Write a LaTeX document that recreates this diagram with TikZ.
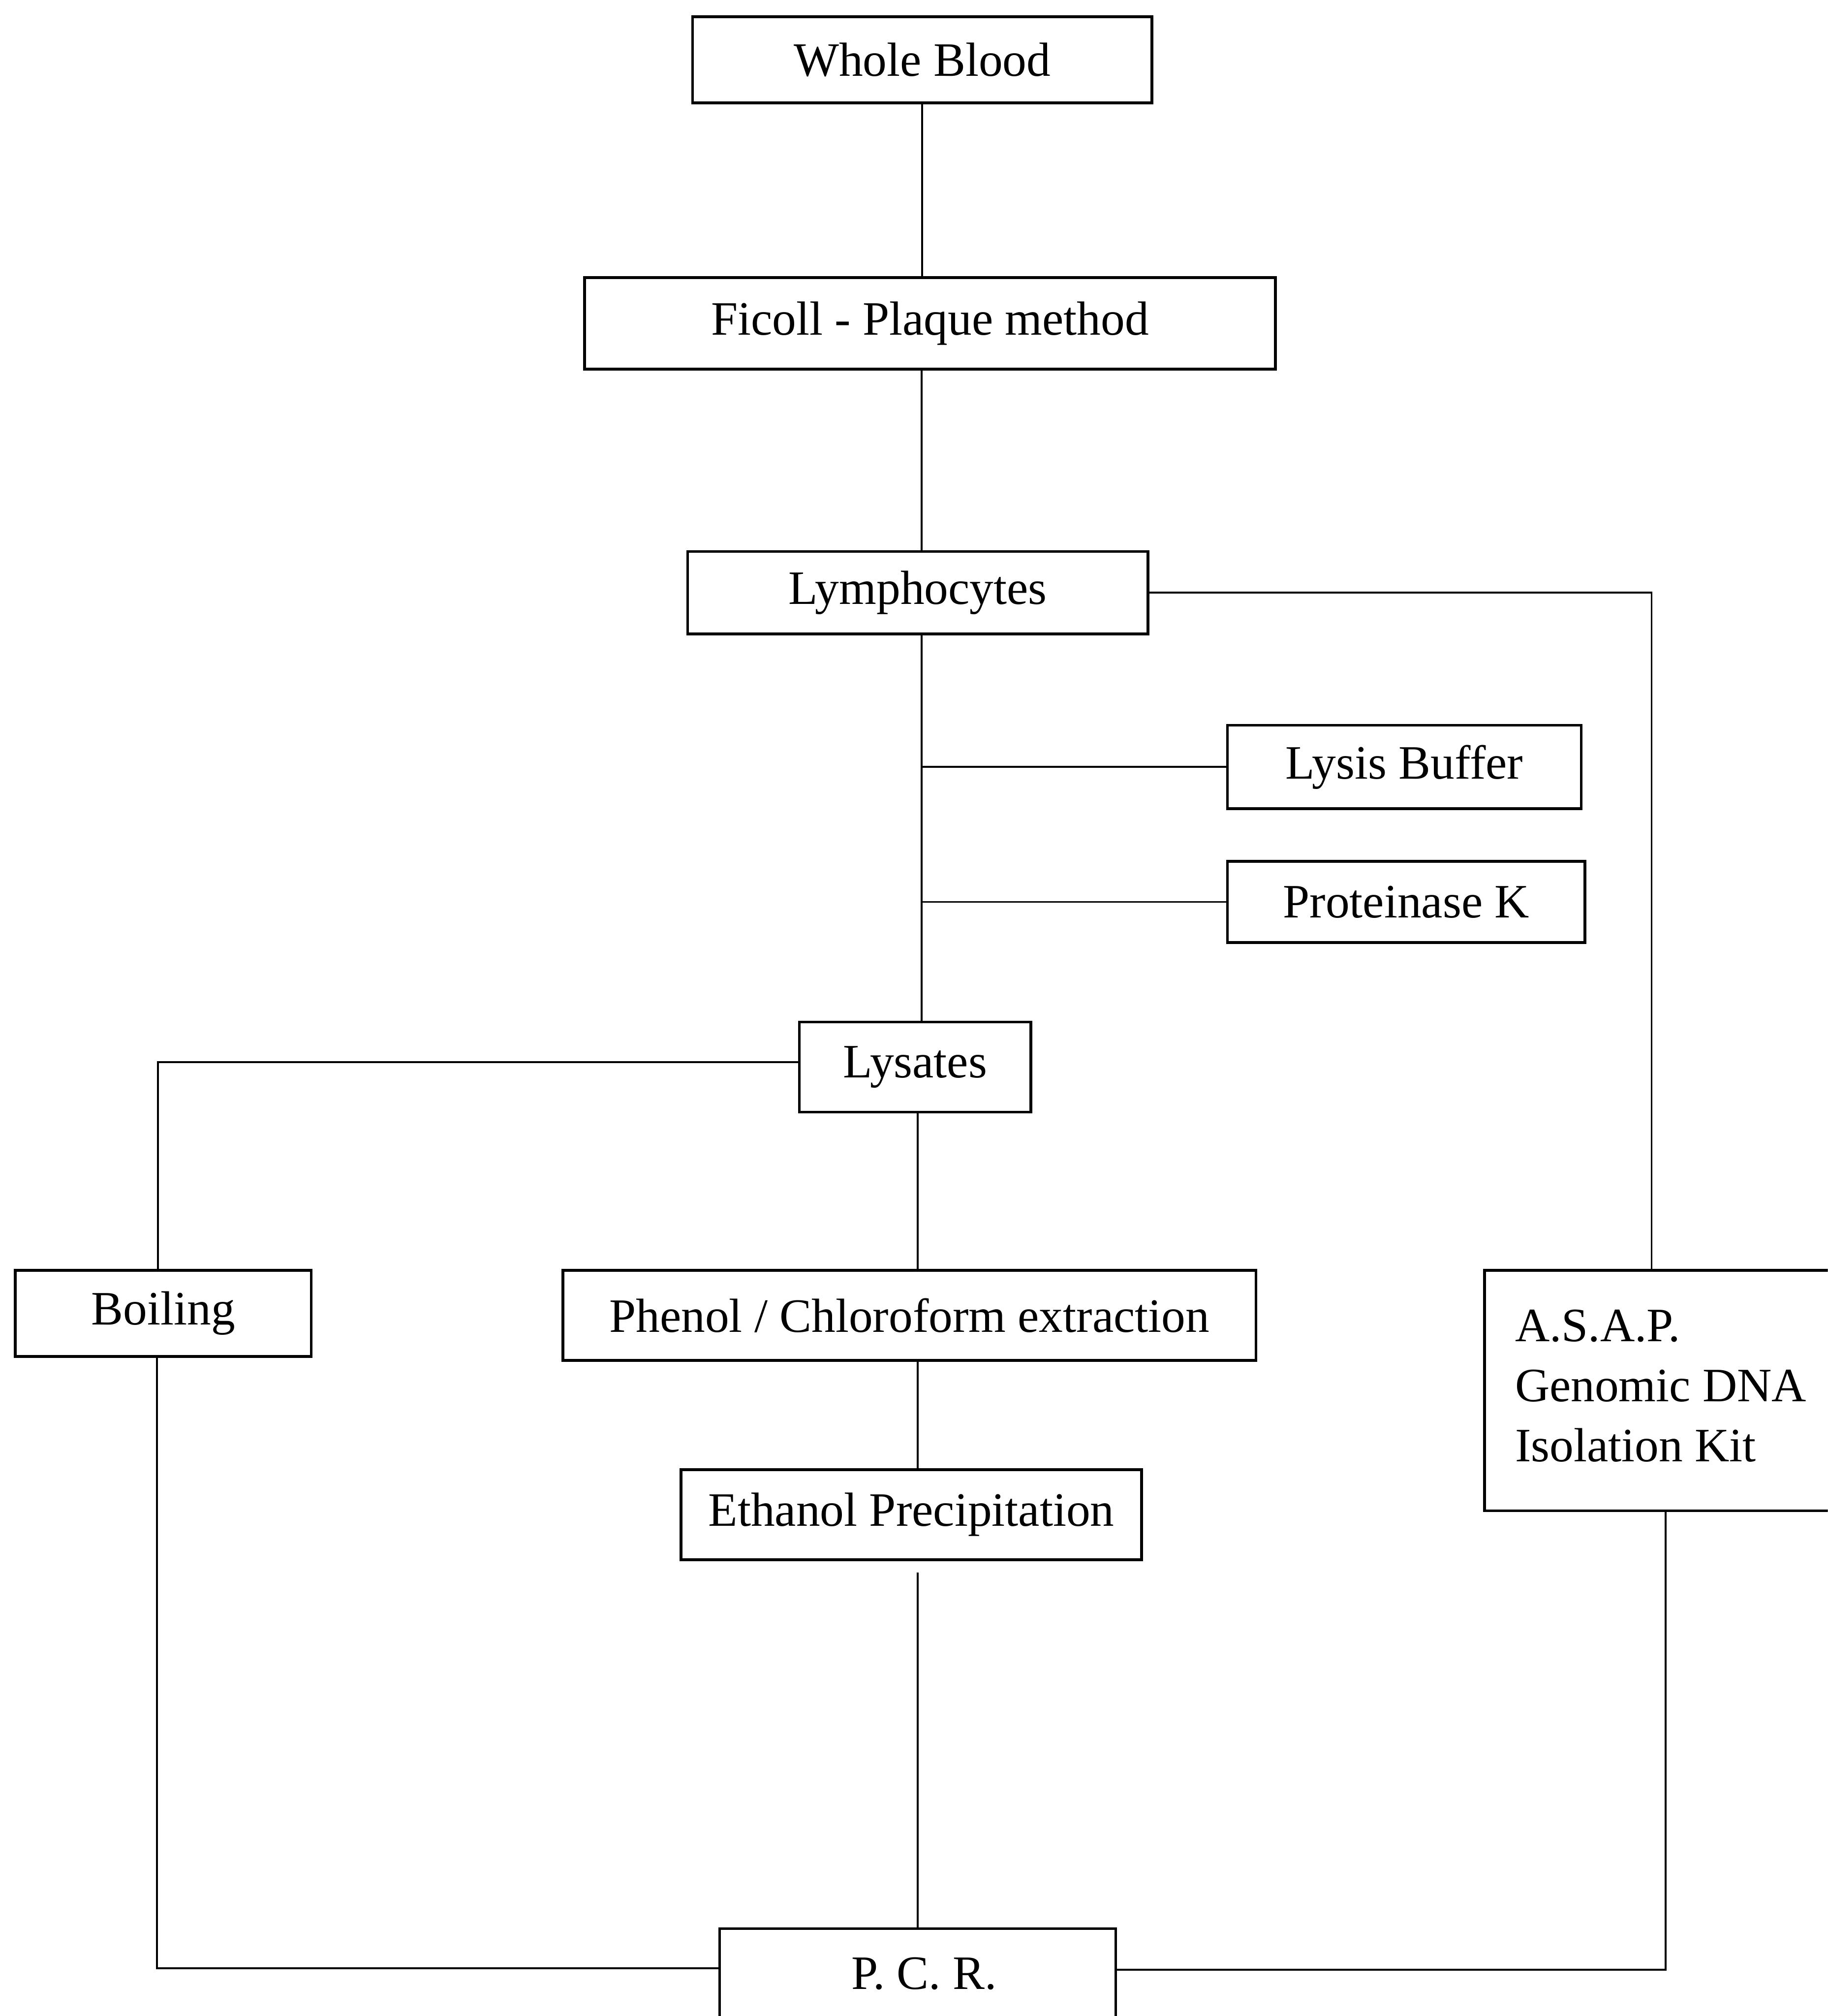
\documentclass[tikz,border=0pt]{standalone}
\usepackage{fontspec}
\setmainfont{Liberation Serif}
\begin{document}
\begin{tikzpicture}[x=0.01cm,y=-0.01cm,
  box/.style={draw,line width=0.6pt,inner sep=0pt,font=\fontsize{10.6}{13.3}\selectfont},
  txt/.style={inner sep=0pt,font=\fontsize{10.6}{13.3}\selectfont},
  conn/.style={line width=0.4pt}]
\useasboundingbox (0,0) rectangle (1422,1568);
\clip (0,0) rectangle (1422,1568);
\fill[white] (0,0) rectangle (1422,1568);
% boxes
\node[box,minimum width=3.57cm,minimum height=0.67cm] (wb) at (717.5,46.5) {Whole Blood};
\node[box,minimum width=5.37cm,minimum height=0.71cm] (fic) at (723.5,251.5) {Ficoll - Plaque method};
\node[box,minimum width=3.58cm,minimum height=0.64cm] (lym) at (714,461) {Lymphocytes};
\node[box,minimum width=2.75cm,minimum height=0.65cm] (lysis) at (1092.5,596.5) {Lysis Buffer};
\node[box,minimum width=2.78cm,minimum height=0.63cm] (protk) at (1094,701.5) {Proteinase K};
\node[box,minimum width=1.80cm,minimum height=0.70cm] (lys) at (712,830) {Lysates};
\node[box,minimum width=2.30cm,minimum height=0.67cm] (boil) at (127,1021.5) {Boiling};
\node[box,minimum width=5.39cm,minimum height=0.70cm] (phe) at (707.5,1023) {Phenol / Chloroform extraction};
\node[box,minimum width=3.58cm,minimum height=0.70cm] (eth) at (709,1178) {Ethanol Precipitation};
\node[box,minimum width=3.45cm,minimum height=1.87cm] (asap) at (1327.5,1081.5) {};
\node[txt,anchor=west,align=left] (asapt) at (1178,1078) {A.S.A.P.\\Genomic DNA\\Isolation Kit};
\node[box,minimum width=3.08cm,minimum height=1.40cm] (pcr) at (714,1570) {};
\node[txt] (pcrt) at (719,1535) {P. C. R.};
% helper coordinates
\coordinate (spine) at ([xshift=0.03cm]lym.south);
\coordinate (lysl) at ([yshift=0.04cm]lys.west);
\coordinate (boilup) at ([xshift=-0.04cm]boil.north);
\coordinate (boildn) at ([xshift=-0.05cm]boil.south);
\coordinate (midA) at ([xshift=0.02cm]lys.south);
\coordinate (midB) at ([xshift=0.065cm]phe.south);
\coordinate (midC) at ([xshift=0.05cm,yshift=-0.09cm]eth.south);
\coordinate (pcrl) at ([yshift=-0.32cm]pcr.north west);
\coordinate (pcrr) at ([yshift=-0.33cm]pcr.north east);
\coordinate (asapdn) at ([xshift=1.42cm]asap.south west);
\coordinate (asapup) at ([xshift=1.31cm]asap.north west);
% connectors
\draw[conn] (wb.south) -- (wb.south |- fic.north);
\draw[conn] (spine |- fic.south) -- (spine |- lym.north);
\draw[conn] (spine) -- (spine |- lys.north);
\draw[conn] (lysis.west) -- (lysis.west -| spine);
\draw[conn] (protk.west) -- (protk.west -| spine);
\draw[conn] (lysl) -| (boilup);
\draw[conn] (midA) -- (midA |- phe.north);
\draw[conn] (midB) -- (midB |- eth.north);
\draw[conn] (midC) -- (midC |- pcr.north);
\draw[conn] (boildn) |- (pcrl);
\draw[conn] (pcrr) -| (asapdn);
\draw[conn] (lym.east) -| (asapup);
\end{tikzpicture}
\end{document}
